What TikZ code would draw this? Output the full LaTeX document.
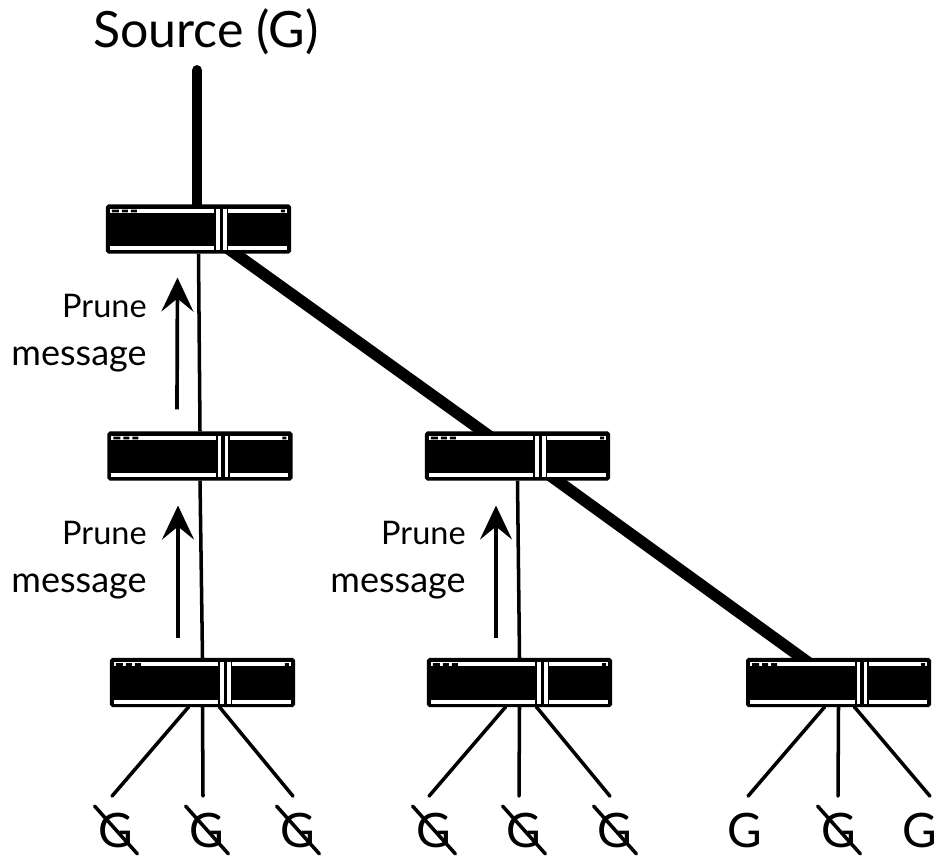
\documentclass[tikz,border=0pt]{standalone}
\usepackage{fontspec}
\setmainfont{Lato}
\usetikzlibrary{arrows.meta,backgrounds}
\tikzset{
	routerbox/.style={draw=black,fill=black,line width=0.6pt,rounded corners=1pt,minimum width=3.68cm,minimum height=0.96cm,inner sep=0pt},
	bar/.style={fill=white,draw=none},
	thinlink/.style={line width=2pt},
	srclink/.style={line width=5.6pt,line cap=round},
	thicklink/.style={line width=6.6pt},
	leaflink/.style={line width=2pt,line cap=round},
	prune/.style={line width=2.1pt,->},
	msg/.style={font=\fontsize{20.5}{27.7}\selectfont,align=right,anchor=east,inner sep=0pt},
	grp/.style={font=\fontsize{27}{27}\selectfont,inner sep=0pt,minimum width=0.84cm,minimum height=0.94cm},
}
\newcommand{\prunetext}{{\fontsize{18.5}{27.7}\selectfont Prune}\\message}
% one router: black box with the white strips on it
\newcommand{\router}[3]{
	\node[routerbox] (#1) at (#2,#3) {};
	\begin{scope}[shift={(#1.north west)}]
		\fill[bar] (4,4.5) rectangle (108.5,8.5);
		\fill[bar] (4,42) rectangle (108.5,46);
		\fill[bar] (110.5,4.5) rectangle (114,46);
		\fill[bar] (117.5,4.5) rectangle (121,46);
		\fill[bar] (122.5,4.5) rectangle (181,8.5);
		\fill[bar] (122.5,42) rectangle (181,46);
		\fill[black] (6,5.2) rectangle (13,7.8) (16,5.2) rectangle (22,7.8) (25,5.2) rectangle (31,7.8) (175,5.2) rectangle (179,7.8);
	\end{scope}
}
\begin{document}
\begin{tikzpicture}[x=0.02cm,y=-0.02cm,>={Stealth[length=0.68cm,width=0.64cm,inset=0.26cm]},line join=round]
	\useasboundingbox (0,0) rectangle (936,858);
	\node[font=\fontsize{28.5}{28.5}\selectfont,inner sep=0pt] (source) at (206,32) {Source (G)};
	\coordinate (srcend) at (197,70);
	\router{rtop}{198.5}{229}
	\router{rmidl}{200}{456}
	\router{rmidr}{517.5}{456}
	\router{rlowa}{202.5}{682.5}
	\router{rlowb}{519.5}{682.5}
	\router{rlowc}{838.5}{682.5}
	% links between routers
	\begin{scope}[on background layer]
		\fill[white] (0,0) rectangle (936,858);
		\draw[srclink] (srcend) -- ([xshift=-0.03cm]rtop.north);
		\draw[thinlink] (rtop.south) -- (rmidl.north);
		\draw[thinlink] (rmidl.south) -- (rlowa.north);
		\draw[thinlink] (rmidr.south) -- (rlowb.north);
		\draw[thicklink] ([shift={(28.2,-6)}]rtop.south) -- ([shift={(-26.2,6)}]rmidr.north);
		\draw[thicklink] ([shift={(31.2,-6)}]rmidr.south) -- ([shift={(-28.2,6)}]rlowc.north);
	\end{scope}
	% prune arrows
	\draw[prune] ([shift={(-23,-22)}]rmidl.north) -- ([shift={(-21,24)}]rtop.south);
	\draw[prune] ([shift={(-24.5,-20)}]rlowa.north) -- ([shift={(-22,25)}]rmidl.south);
	\draw[prune] ([shift={(-23.5,-20)}]rlowb.north) -- ([shift={(-21.5,25)}]rmidr.south);
	\node[msg] (msga) at (147,333) {\prunetext};
	\node[msg] (msgb) at (147,560) {\prunetext};
	\node[msg] (msgc) at (466,560) {\prunetext};
	% receivers
	\foreach \gname/\gx/\rname/\sx/\ex in {ga/116/rlowa/-14/-4,gb/207/rlowa/0/-4,gc/298/rlowa/17/-5,gd/434/rlowb/-14/-5,ge/524/rlowb/0/-5,gf/615/rlowb/17/-5,gg/745/rlowc/-14/3,gh/839/rlowc/0/-1,gi/920/rlowc/16/10}{
		\node[grp] (\gname) at (\gx,830) {G};
		\draw[leaflink] ([shift={(\sx,0)}]\rname.south) -- ([shift={(\ex,-10)}]\gname.north);
	}
	\foreach \gname in {ga,gb,gc,gd,ge,gf,gh}{
		\draw[leaflink] (\gname.north west) -- (\gname.south east);
	}
\end{tikzpicture}
\end{document}
